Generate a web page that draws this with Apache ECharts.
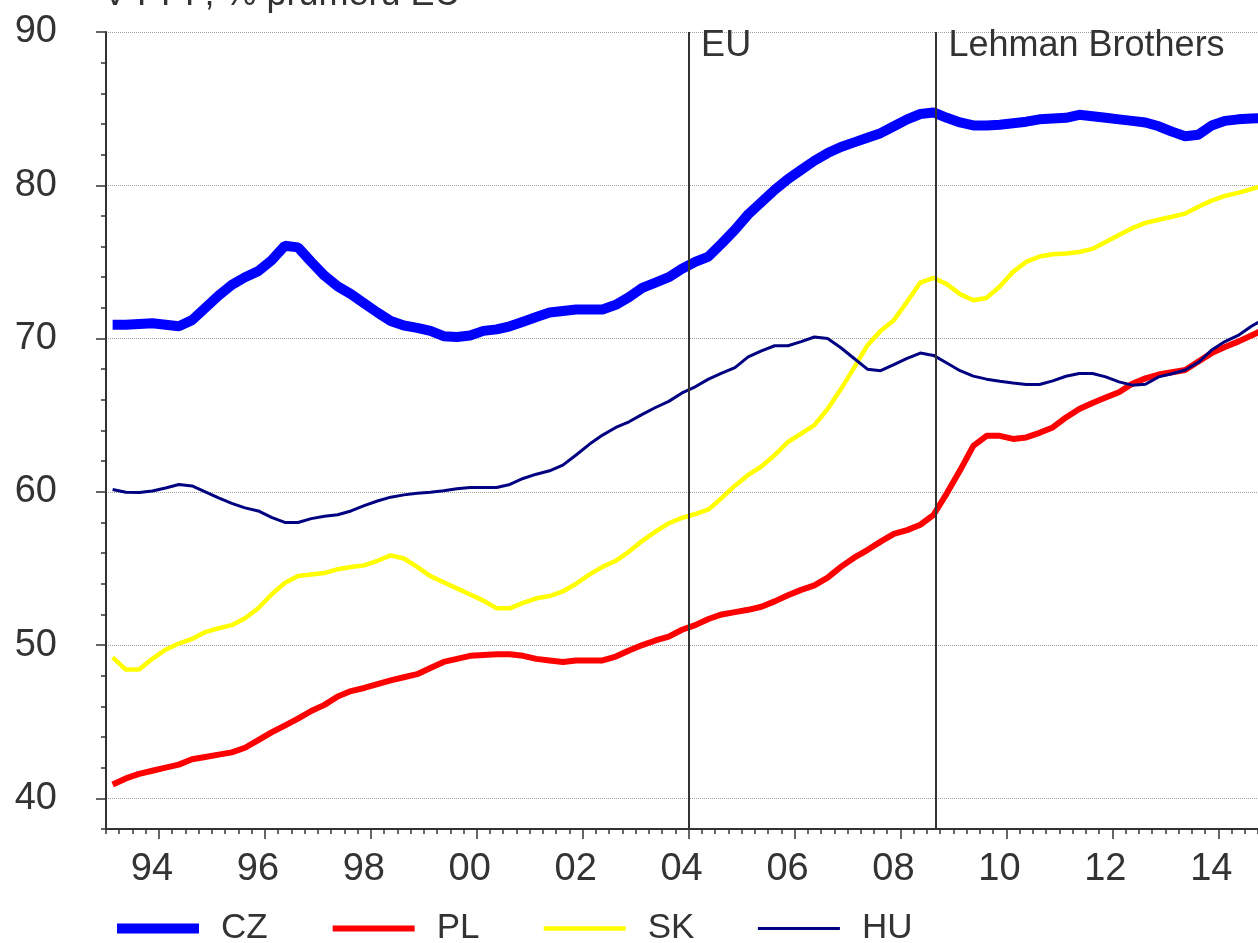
<!DOCTYPE html>
<html>
<head>
<meta charset="utf-8">
<script src="https://cdn.jsdelivr.net/npm/echarts@6/dist/echarts.min.js"></script>
<style>
html, body { margin: 0; padding: 0; background: #fff; }
#chart { width: 1258px; height: 943px; }
</style>
</head>
<body>
<div id="chart"></div>
<script>
// quarterly data, 1993Q1 .. 2014Q4, plotted at the middle of each quarter
var firstYear = 1993;
var cz = [70.9, 70.9, 70.95, 71.0, 70.9, 70.8, 71.2, 72.0, 72.8, 73.5, 74.0, 74.4,
	75.1, 76.05, 75.95, 75.0, 74.1, 73.4, 72.9, 72.3, 71.7, 71.15, 70.85, 70.7,
	70.5, 70.15, 70.1, 70.2, 70.5, 70.6, 70.8, 71.1, 71.4, 71.7, 71.8, 71.9,
	71.9, 71.9, 72.2, 72.7, 73.3, 73.65, 74.0, 74.55, 75.0, 75.35, 76.2, 77.1,
	78.1, 78.9, 79.7, 80.4, 81.0, 81.6, 82.1, 82.5, 82.8, 83.1, 83.4, 83.85,
	84.3, 84.65, 84.75, 84.4, 84.1, 83.9, 83.9, 83.95, 84.05, 84.15, 84.3, 84.35,
	84.4, 84.6, 84.5, 84.4, 84.3, 84.2, 84.1, 83.85, 83.5, 83.2, 83.3, 83.9,
	84.2, 84.3, 84.35, 84.4];
var pl = [40.9, 41.3, 41.6, 41.8, 42.0, 42.2, 42.55, 42.7, 42.85, 43.0, 43.3, 43.8,
	44.3, 44.75, 45.2, 45.7, 46.1, 46.65, 47.0, 47.2, 47.45, 47.7, 47.9, 48.1,
	48.5, 48.9, 49.1, 49.3, 49.35, 49.4, 49.4, 49.3, 49.1, 49.0, 48.9, 49.0,
	49.0, 49.0, 49.25, 49.65, 50.0, 50.3, 50.55, 51.0, 51.3, 51.7, 52.0, 52.15,
	52.3, 52.5, 52.85, 53.25, 53.6, 53.9, 54.4, 55.1, 55.7, 56.2, 56.75, 57.25,
	57.5, 57.85, 58.5, 59.9, 61.4, 63.0, 63.65, 63.65, 63.45, 63.55, 63.85, 64.2,
	64.85, 65.4, 65.8, 66.15, 66.5, 67.05, 67.4, 67.65, 67.8, 67.95, 68.5, 69.05,
	69.45, 69.8, 70.2, 70.6];
var sk = [49.2, 48.4, 48.4, 49.1, 49.7, 50.1, 50.4, 50.85, 51.1, 51.3, 51.75, 52.4,
	53.3, 54.05, 54.5, 54.6, 54.7, 54.95, 55.1, 55.2, 55.5, 55.85, 55.65, 55.1,
	54.5, 54.1, 53.7, 53.3, 52.9, 52.4, 52.4, 52.75, 53.05, 53.2, 53.5, 54.0,
	54.6, 55.1, 55.5, 56.1, 56.8, 57.4, 57.95, 58.3, 58.55, 58.85, 59.6, 60.4,
	61.1, 61.65, 62.4, 63.25, 63.8, 64.35, 65.4, 66.7, 68.1, 69.55, 70.5, 71.2,
	72.4, 73.65, 73.95, 73.55, 72.9, 72.5, 72.65, 73.4, 74.35, 75.0, 75.35, 75.5,
	75.55, 75.65, 75.85, 76.3, 76.75, 77.2, 77.55, 77.75, 77.95, 78.15, 78.6, 79.0,
	79.3, 79.5, 79.75, 80.0];
var hu = [60.15, 59.97, 59.96, 60.05, 60.25, 60.48, 60.38, 60.0, 59.6, 59.25, 58.95, 58.75,
	58.33, 58.0, 58.0, 58.25, 58.4, 58.5, 58.75, 59.1, 59.4, 59.65, 59.8, 59.9,
	59.97, 60.07, 60.2, 60.28, 60.28, 60.28, 60.48, 60.87, 61.15, 61.37, 61.74, 62.4,
	63.1, 63.7, 64.2, 64.57, 65.05, 65.5, 65.9, 66.45, 66.85, 67.35, 67.75, 68.1,
	68.8, 69.2, 69.53, 69.53, 69.8, 70.1, 70.0, 69.4, 68.7, 68.0, 67.9, 68.3,
	68.7, 69.05, 68.9, 68.4, 67.9, 67.55, 67.35, 67.22, 67.1, 67.0, 67.0, 67.24,
	67.54, 67.72, 67.72, 67.5, 67.17, 66.96, 67.02, 67.5, 67.7, 67.95, 68.45, 69.25,
	69.8, 70.2, 70.8, 71.3];
var yearTicks = [1994, 1996, 1998, 2000, 2002, 2004, 2006, 2008, 2010, 2012, 2014];
var valueTicks = [40, 50, 60, 70, 80, 90];
var events = [[2004, 'EU'], [2008.67, 'Lehman Brothers']];

var TEXT = '#333333';
var FONT = 'Liberation Sans, Arial, sans-serif';
var lines = [
	{ name: 'CZ', color: '#0000ff', width: 10, data: cz },
	{ name: 'PL', color: '#ff0000', width: 6, data: pl },
	{ name: 'SK', color: '#ffff00', width: 4.5, data: sk },
	{ name: 'HU', color: '#000080', width: 3, data: hu }
];

function toPoints(arr) {
	return arr.map(function (v, i) {
		return [firstYear + i / 4 + 0.125, v];
	});
}

var series = lines.map(function (s) {
	return {
		name: s.name,
		type: 'line',
		symbol: 'none',
		color: s.color,
		lineStyle: { width: s.width, color: s.color },
		data: toPoints(s.data)
	};
});
series.push({
	name: 'events',
	type: 'scatter',
	silent: true,
	symbolSize: 1,
	itemStyle: { color: 'rgba(0,0,0,0)' },
	data: events.map(function (e) { return [e[0], 90, e[1]]; }),
	label: {
		show: true,
		position: [13, -3],
		align: 'left',
		verticalAlign: 'top',
		fontSize: 36,
		color: TEXT,
		opacity: 1,
		fontFamily: FONT,
		formatter: function (p) { return p.data[2]; }
	},
	markLine: {
		silent: true,
		symbol: ['none', 'none'],
		label: { show: false },
		lineStyle: { color: TEXT, width: 2, type: 'solid' },
		data: events.map(function (e) { return { xAxis: e[0] }; })
	}
});

var myChart = echarts.init(document.getElementById('chart'));
var option = {
	animation: false,
	backgroundColor: '#fff',
	textStyle: { fontFamily: FONT },
	title: {
		text: 'V PPP, % průměru EU',
		left: 103,
		top: -23,
		padding: 0,
		textStyle: { fontSize: 36, fontWeight: 'normal', color: TEXT, fontFamily: FONT }
	},
	legend: {
		data: lines.map(function (s) {
			return {
				name: s.name,
				itemStyle: { opacity: 0 },
				lineStyle: { width: s.width, color: s.color }
			};
		}),
		left: 112,
		top: 911,
		padding: 0,
		itemWidth: 82,
		itemHeight: 14,
		itemGap: 62,
		textStyle: { fontSize: 35, color: TEXT, fontFamily: FONT, padding: [0, 0, 0, 17] }
	},
	grid: {
		left: 106,
		right: 0,
		top: 32,
		bottom: 114,
		containLabel: false,
		outerBoundsMode: 'none'
	},
	xAxis: [{
		type: 'value',
		min: 1993,
		max: 2014.75,
		interval: 0.25,
		position: 'bottom',
		axisLine: { show: true, lineStyle: { color: TEXT, width: 2 } },
		axisTick: { show: true, length: 5, lineStyle: { color: TEXT, width: 1.5 } },
		axisLabel: { show: false },
		splitLine: { show: false }
	}, {
		type: 'value',
		min: 1993,
		max: 2014.75,
		position: 'bottom',
		axisLine: { show: false },
		axisTick: { show: true, length: 10, customValues: yearTicks, lineStyle: { color: TEXT, width: 1.5 } },
		axisLabel: {
			show: true,
			customValues: yearTicks,
			fontSize: 38,
			color: TEXT,
			margin: 22,
			padding: [0, 14, 0, 0],
			formatter: function (v) { return String(Math.round(v)).slice(2); }
		},
		splitLine: { show: false }
	}],
	yAxis: [{
		type: 'value',
		min: 38,
		max: 90,
		interval: 2,
		position: 'left',
		axisLine: { show: true, lineStyle: { color: TEXT, width: 2 } },
		axisTick: { show: true, length: 5, lineStyle: { color: TEXT, width: 1.5 } },
		axisLabel: { show: false },
		splitLine: { show: false }
	}, {
		type: 'value',
		min: 38,
		max: 90,
		position: 'left',
		axisLine: { show: false },
		axisTick: { show: true, length: 10, customValues: valueTicks, lineStyle: { color: TEXT, width: 1.5 } },
		axisLabel: { show: true, customValues: valueTicks, fontSize: 38, color: TEXT, margin: 49 },
		splitLine: { show: true, lineStyle: { color: '#a0a0a0', width: 1, type: 'dotted' } }
	}],
	series: series
};
myChart.setOption(option);
window.addEventListener('resize', function () {
	myChart.resize();
});
</script>
</body>
</html>
